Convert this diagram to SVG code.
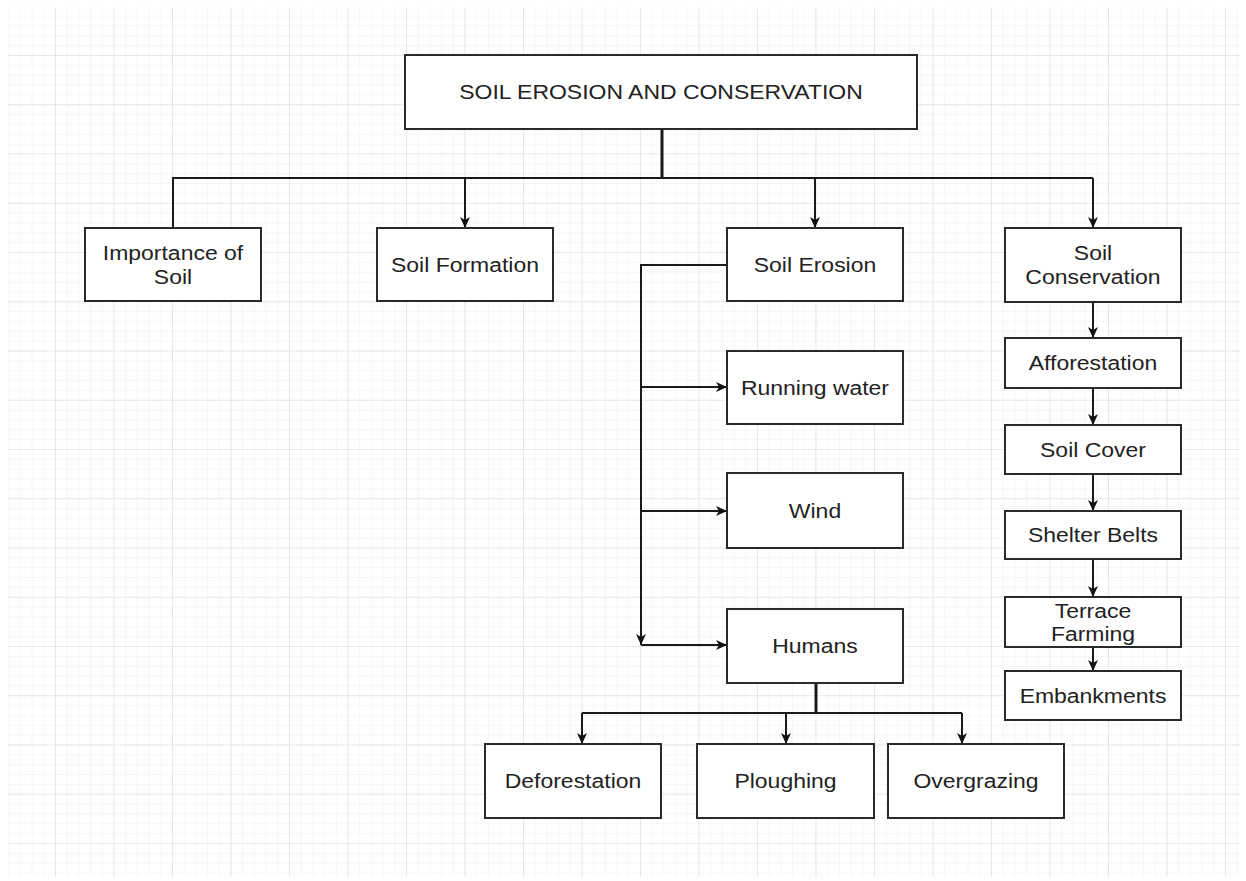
<svg xmlns="http://www.w3.org/2000/svg" width="1246" height="881" viewBox="0 0 1246 881">
<defs>
<pattern id="minor" patternUnits="userSpaceOnUse" x="55" y="55" width="11.7" height="9.85">
<path d="M0,0 V9.85 M0,0 H11.7" fill="none" stroke="#ededed" stroke-width="1"/>
</pattern>
<pattern id="major" patternUnits="userSpaceOnUse" x="55" y="55" width="58.5" height="49.25">
<path d="M0,0 V49.25 M0,0 H58.5" fill="none" stroke="#dadada" stroke-width="1"/>
</pattern>
<marker id="arr" markerUnits="userSpaceOnUse" markerWidth="11" markerHeight="10" viewBox="0 0 11 10" refX="11" refY="5" orient="auto">
<path d="M0,0 L11,5 L0,10 L3,5 Z" fill="#111"/>
</marker>
<style>
.box{fill:#fff;stroke:#2a2a2a;stroke-width:2}
.lbl{font-family:"Liberation Sans",Arial,sans-serif;font-size:19.3px;fill:#222;text-anchor:middle}
.ln{fill:none;stroke:#1a1a1a;stroke-width:2}
.thick{stroke-width:3}
.a{marker-end:url(#arr)}
</style>
</defs>
<rect width="1246" height="881" fill="#fff"/>
<rect x="8" y="7" width="1232" height="870" fill="url(#minor)"/>
<rect x="8" y="7" width="1232" height="870" fill="url(#major)"/>

<g id="connectors">
<path class="ln thick" d="M662,129 V178"/>
<path class="ln" d="M173,228 V178 H1093"/>
<path class="ln a" d="M1093,178 V228"/>
<path class="ln a" d="M465,178 V228"/>
<path class="ln a" d="M815,178 V228"/>
<path class="ln a" d="M1093,302 V338"/>
<path class="ln a" d="M1093,388 V425"/>
<path class="ln a" d="M1093,474 V511"/>
<path class="ln a" d="M1093,559 V597"/>
<path class="ln a" d="M1093,647 V671"/>
<path class="ln a" d="M727,265 H641 V645"/>
<path class="ln a" d="M641,387 H727"/>
<path class="ln a" d="M641,511 H727"/>
<path class="ln a" d="M641,645 H727"/>
<path class="ln thick" d="M816,683 V713"/>
<path class="ln" d="M582,713 H962"/>
<path class="ln a" d="M582,713 V744"/>
<path class="ln a" d="M786,713 V744"/>
<path class="ln a" d="M962,713 V744"/>
</g>

<g id="title">
<rect class="box" x="405" y="55" width="512" height="74"/>
<text class="lbl" transform="translate(661,99) scale(1.19,1)">SOIL EROSION AND CONSERVATION</text>
</g>
<g id="importance">
<rect class="box" x="85" y="228" width="176" height="73"/>
<text class="lbl" transform="translate(173,260) scale(1.19,1)"><tspan x="0" y="0">Importance of</tspan><tspan x="0" y="24">Soil</tspan></text>
</g>
<g id="formation">
<rect class="box" x="377" y="228" width="176" height="73"/>
<text class="lbl" transform="translate(465,271.5) scale(1.19,1)">Soil Formation</text>
</g>
<g id="erosion">
<rect class="box" x="727" y="228" width="176" height="73"/>
<text class="lbl" transform="translate(815,271.5) scale(1.19,1)">Soil Erosion</text>
</g>
<g id="conservation">
<rect class="box" x="1005" y="228" width="176" height="74"/>
<text class="lbl" transform="translate(1093,260) scale(1.19,1)"><tspan x="0" y="0">Soil</tspan><tspan x="0" y="24">Conservation</tspan></text>
</g>
<g id="afforestation">
<rect class="box" x="1005" y="338" width="176" height="50"/>
<text class="lbl" transform="translate(1093,370) scale(1.19,1)">Afforestation</text>
</g>
<g id="soilcover">
<rect class="box" x="1005" y="425" width="176" height="49"/>
<text class="lbl" transform="translate(1093,456.5) scale(1.19,1)">Soil Cover</text>
</g>
<g id="shelter">
<rect class="box" x="1005" y="511" width="176" height="48"/>
<text class="lbl" transform="translate(1093,542) scale(1.19,1)">Shelter Belts</text>
</g>
<g id="terrace">
<rect class="box" x="1005" y="597" width="176" height="50"/>
<text class="lbl" transform="translate(1093,618) scale(1.19,1)"><tspan x="0" y="0">Terrace</tspan><tspan x="0" y="23.5">Farming</tspan></text>
</g>
<g id="embankments">
<rect class="box" x="1005" y="671" width="176" height="49"/>
<text class="lbl" transform="translate(1093,702.5) scale(1.19,1)">Embankments</text>
</g>
<g id="running">
<rect class="box" x="727" y="351" width="176" height="73"/>
<text class="lbl" transform="translate(815,394.5) scale(1.19,1)">Running water</text>
</g>
<g id="wind">
<rect class="box" x="727" y="473" width="176" height="75"/>
<text class="lbl" transform="translate(815,517.5) scale(1.19,1)">Wind</text>
</g>
<g id="humans">
<rect class="box" x="727" y="609" width="176" height="74"/>
<text class="lbl" transform="translate(815,653) scale(1.19,1)">Humans</text>
</g>
<g id="deforestation">
<rect class="box" x="485" y="744" width="176" height="74"/>
<text class="lbl" transform="translate(573,788) scale(1.19,1)">Deforestation</text>
</g>
<g id="ploughing">
<rect class="box" x="697" y="744" width="177" height="74"/>
<text class="lbl" transform="translate(785.5,788) scale(1.19,1)">Ploughing</text>
</g>
<g id="overgrazing">
<rect class="box" x="888" y="744" width="176" height="74"/>
<text class="lbl" transform="translate(976,788) scale(1.19,1)">Overgrazing</text>
</g>
</svg>
